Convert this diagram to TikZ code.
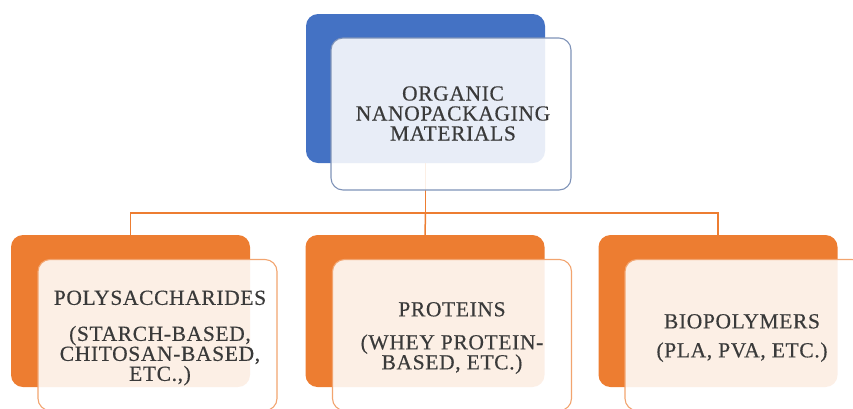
\documentclass[tikz,border=0pt]{standalone}
\usepackage{fontspec}
\setmainfont{Liberation Serif}
\newfontfamily\titlingfont[LetterSpace=3,FakeBold=0.4]{Liberation Serif}
\definecolor{accblue}{HTML}{4472C4}
\definecolor{accorange}{HTML}{ED7D31}
\definecolor{edgeblue}{HTML}{7F93B8}
\definecolor{inkgrey}{HTML}{3A3A3A}
\begin{document}
\begin{tikzpicture}[x=1pt,y=-1pt,
  backbox/.style={rounded corners=12pt, draw=none, minimum width=239pt, minimum height=151pt, inner sep=0pt},
  frontbox/.style={rounded corners=12pt, fill=white, fill opacity=0.88, line width=1.1pt, minimum width=239pt, minimum height=151pt, inner sep=0pt},
  conn/.style={draw=accorange, line width=1.5pt},
  caption/.style={text=inkgrey, align=center, font=\titlingfont\fontsize{21.5}{20}\selectfont, inner sep=0pt}]
\useasboundingbox (0,0) rectangle (853,408);
\clip (0,0) rectangle (853,408);

% back panels
\node[backbox, fill=accblue, minimum height=149pt] (topback) at (425.5,88.5) {};
\node[backbox, fill=accorange, minimum height=152pt] (lback) at (130.5,311) {};
\node[backbox, fill=accorange, minimum height=152pt] (mback) at (425,311) {};
\node[backbox, fill=accorange, minimum height=152pt] (rback) at (718,311) {};

% tree connectors
\draw[conn] (topback.south) -- ++(0,50) coordinate (hub);
\draw[conn] (hub) -| (lback.north);
\draw[conn] (hub) -- (mback.north);
\draw[conn] (hub) -| (rback.north);

% front panels
\node[frontbox, draw=edgeblue, minimum width=240pt, minimum height=152pt] (topfront) at (451,114) {};
\node[frontbox, draw=accorange!70] (lfront) at (157.5,335) {};
\node[frontbox, draw=accorange!70] (mfront) at (452,335) {};
\node[frontbox, draw=accorange!70] (rfront) at (744.5,335) {};

% labels
\node[caption] (toptext) at (453,113.5) {ORGANIC\\NANOPACKAGING\\MATERIALS};
\node[caption] (ltext) at (160,338) {POLYSACCHARIDES\\[16pt](STARCH-BASED,\\CHITOSAN-BASED,\\ETC.,)};
\node[caption] (mtext) at (452,338) {PROTEINS\\[13pt](WHEY PROTEIN-\\BASED, ETC.)};
\node[caption] (rtext) at (742,338) {BIOPOLYMERS\\[9pt](PLA, PVA, ETC.)};
\end{tikzpicture}
\end{document}
